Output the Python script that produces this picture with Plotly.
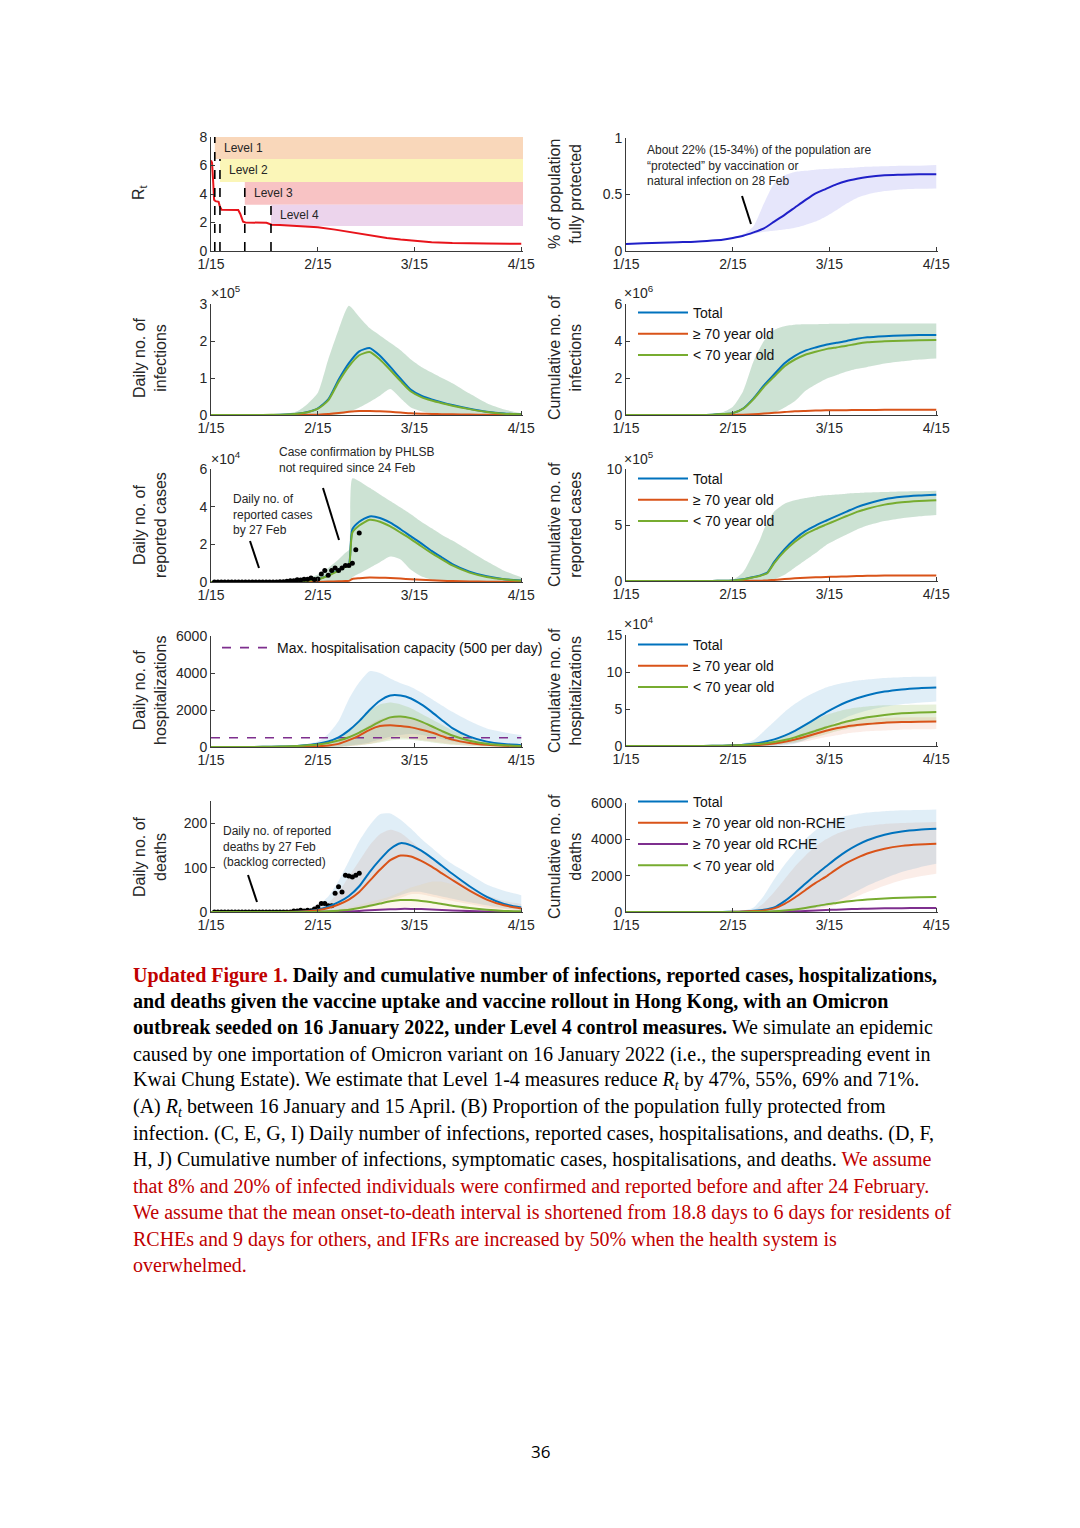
import plotly.graph_objects as go

# ---------------- data ----------------
TICK_DAYS = [0, 31, 59, 90]
TICK_LABELS = ["1/15", "2/15", "3/15", "4/15"]

DAYS = [0, 5, 10, 15, 20, 25, 28, 31, 34, 37, 40, 43, 46, 49, 52, 55, 58, 61, 64, 67, 70, 75, 80, 85, 90]
JUMP_DAYS = [0, 5, 10, 15, 20, 25, 28, 31, 34, 37, 39, 40, 41, 43, 46, 49, 52, 55, 58, 61, 64, 67, 70, 75, 80, 85, 90]

# (A) Rt
RT_DAYS = [0, 0.3, 0.6, 0.9, 1.3, 2.2, 2.6, 3.1, 7.9, 8.5, 9.3, 10.0, 16.1, 16.8, 17.6, 20, 25, 31, 36, 41, 46, 51, 55, 59, 64, 70, 75, 80, 90]
RT_VALUES = [6.35, 6.2, 5.0, 3.6, 3.5, 3.45, 3.1, 2.9, 2.88, 2.6, 2.05, 2.0, 1.98, 1.9, 1.85, 1.82, 1.76, 1.66, 1.5, 1.3, 1.1, 0.92, 0.8, 0.71, 0.62, 0.56, 0.53, 0.52, 0.51]
LEVEL_NAMES = ["Level 1", "Level 2", "Level 3", "Level 4"]
LEVEL_START = [1.1, 2.6, 9.8, 17.4]
LEVEL_LOW = [6.45, 4.85, 3.25, 1.75]
LEVEL_HIGH = [8.0, 6.45, 4.85, 3.25]

# (B) proportion protected
PROT_MID = [0.062, 0.068, 0.073, 0.078, 0.082, 0.092, 0.1, 0.115, 0.135, 0.165, 0.2, 0.26, 0.32, 0.385, 0.45, 0.51, 0.55, 0.59, 0.62, 0.64, 0.655, 0.67, 0.675, 0.68, 0.68]
PROT_LO = [0.062, 0.068, 0.073, 0.078, 0.082, 0.092, 0.1, 0.112, 0.13, 0.15, 0.17, 0.18, 0.19, 0.205, 0.23, 0.26, 0.305, 0.36, 0.42, 0.47, 0.5, 0.53, 0.545, 0.55, 0.553]
PROT_HI = [0.062, 0.068, 0.073, 0.078, 0.082, 0.094, 0.103, 0.12, 0.15, 0.22, 0.42, 0.6, 0.67, 0.7, 0.71, 0.72, 0.725, 0.73, 0.735, 0.74, 0.745, 0.75, 0.755, 0.755, 0.76]

# (C) daily infections (x1e5)
INF_TOTAL = [0, 0, 0, 0.002, 0.01, 0.035, 0.08, 0.18, 0.42, 0.95, 1.4, 1.72, 1.81, 1.6, 1.3, 0.98, 0.68, 0.52, 0.42, 0.34, 0.27, 0.17, 0.09, 0.04, 0.02]
INF_OLD = [0, 0, 0, 0, 0, 0.002, 0.005, 0.01, 0.025, 0.055, 0.085, 0.105, 0.11, 0.1, 0.085, 0.065, 0.045, 0.035, 0.028, 0.022, 0.018, 0.011, 0.006, 0.003, 0.001]
INF_YOUNG = [0, 0, 0, 0.002, 0.01, 0.033, 0.075, 0.17, 0.395, 0.895, 1.315, 1.615, 1.70, 1.50, 1.215, 0.915, 0.635, 0.485, 0.392, 0.318, 0.252, 0.159, 0.084, 0.037, 0.019]
INF_LO = [0, 0, 0, 0, 0, 0, 0, 0, 0, 0.01, 0.08, 0.2, 0.35, 0.52, 0.7, 0.45, 0.2, 0.1, 0.05, 0.03, 0.02, 0.01, 0, 0, 0]
INF_HI = [0, 0, 0, 0.003, 0.01, 0.1, 0.3, 0.6, 1.5, 2.3, 2.95, 2.65, 2.35, 2.15, 1.95, 1.75, 1.5, 1.3, 1.15, 1.0, 0.86, 0.58, 0.32, 0.15, 0.05]

# (D) cumulative infections (x1e6)
CINF_TOTAL = [0, 0, 0, 0, 0.005, 0.02, 0.05, 0.1, 0.35, 0.9, 1.6, 2.2, 2.8, 3.2, 3.48, 3.65, 3.8, 3.9, 4.0, 4.12, 4.2, 4.26, 4.3, 4.32, 4.33]
CINF_OLD = [0, 0, 0, 0, 0, 0, 0.002, 0.005, 0.015, 0.04, 0.08, 0.12, 0.16, 0.2, 0.22, 0.24, 0.25, 0.26, 0.26, 0.27, 0.27, 0.28, 0.28, 0.28, 0.28]
CINF_YOUNG = [0, 0, 0, 0, 0.005, 0.02, 0.05, 0.1, 0.34, 0.86, 1.52, 2.08, 2.64, 3.0, 3.26, 3.42, 3.56, 3.65, 3.74, 3.85, 3.93, 3.98, 4.02, 4.04, 4.05]
CINF_LO = [0, 0, 0, 0, 0, 0, 0, 0, 0, 0, 0.03, 0.12, 0.4, 0.75, 1.3, 1.65, 1.95, 2.15, 2.35, 2.5, 2.6, 2.78, 2.9, 3.0, 3.06]
CINF_HI = [0, 0, 0, 0, 0.01, 0.05, 0.15, 0.45, 1.3, 2.9, 4.0, 4.6, 4.8, 4.88, 4.9, 4.91, 4.92, 4.93, 4.93, 4.94, 4.94, 4.95, 4.95, 4.95, 4.95]

# (E) daily reported cases (x1e4)
REP_TOTAL = [0, 0, 0, 0, 0.01, 0.03, 0.07, 0.15, 0.35, 0.65, 0.85, 0.92, 2.8, 3.2, 3.48, 3.4, 3.15, 2.8, 2.42, 2.05, 1.65, 1.3, 0.95, 0.55, 0.3, 0.15, 0.08]
REP_OLD = [0, 0, 0, 0, 0, 0.002, 0.004, 0.01, 0.02, 0.04, 0.05, 0.06, 0.16, 0.2, 0.24, 0.23, 0.21, 0.18, 0.15, 0.12, 0.09, 0.07, 0.05, 0.03, 0.015, 0.008, 0.004]
REP_YOUNG = [0, 0, 0, 0, 0.01, 0.028, 0.065, 0.14, 0.33, 0.61, 0.8, 0.86, 2.62, 3.0, 3.3, 3.2, 2.95, 2.62, 2.28, 1.9, 1.53, 1.2, 0.88, 0.5, 0.27, 0.14, 0.07]
REP_LO = [0, 0, 0, 0, 0, 0, 0, 0, 0, 0, 0, 0, 0.25, 0.45, 0.75, 1.05, 1.35, 1.2, 0.65, 0.3, 0.12, 0.05, 0.02, 0, 0, 0, 0]
REP_HI = [0, 0, 0, 0, 0.02, 0.08, 0.2, 0.4, 0.75, 1.2, 1.55, 1.7, 5.5, 5.35, 5.0, 4.65, 4.3, 3.95, 3.6, 3.2, 2.85, 2.5, 2.2, 1.65, 1.1, 0.6, 0.25]
REP_OBS_DAYS = list(range(1, 44))
REP_OBS = [0.001, 0.002, 0.001, 0.002, 0.002, 0.003, 0.001, 0.002, 0.002, 0.003, 0.002, 0.003, 0.002, 0.003, 0.002, 0.002,
           0.005, 0.004, 0.004, 0.01, 0.013, 0.034, 0.06, 0.063, 0.116, 0.107, 0.151, 0.151, 0.207, 0.135, 0.162,
           0.43, 0.61, 0.36, 0.61, 0.75, 0.61, 0.74, 0.88, 0.87, 1.0, 1.71, 2.6]

# (F) cumulative reported cases (x1e5)
CREP_TOTAL = [0, 0, 0, 0, 0.002, 0.01, 0.02, 0.05, 0.15, 0.35, 0.5, 0.62, 0.75, 1.7, 2.85, 3.75, 4.45, 4.95, 5.38, 5.8, 6.2, 6.6, 6.9, 7.3, 7.52, 7.63, 7.7]
CREP_OLD = [0, 0, 0, 0, 0, 0, 0.001, 0.003, 0.008, 0.02, 0.03, 0.035, 0.045, 0.1, 0.18, 0.24, 0.29, 0.33, 0.36, 0.39, 0.41, 0.44, 0.46, 0.48, 0.49, 0.5, 0.5]
CREP_YOUNG = [0, 0, 0, 0, 0.002, 0.01, 0.02, 0.05, 0.14, 0.33, 0.47, 0.58, 0.7, 1.6, 2.67, 3.5, 4.17, 4.63, 5.03, 5.42, 5.8, 6.17, 6.45, 6.82, 7.03, 7.14, 7.2]
CREP_LO = [0, 0, 0, 0, 0, 0, 0, 0, 0, 0, 0, 0, 0.05, 0.15, 0.55, 1.2, 1.85, 2.5, 3.2, 3.7, 4.15, 4.6, 4.95, 5.35, 5.6, 5.78, 5.9]
CREP_HI = [0, 0, 0, 0, 0.005, 0.02, 0.05, 0.1, 0.8, 2.5, 3.8, 4.6, 5.2, 6.2, 6.9, 7.2, 7.4, 7.55, 7.65, 7.72, 7.8, 7.85, 7.9, 7.95, 8.0, 8.02, 8.05]

# (G) daily hospitalisations
HOSP_TOTAL = [0, 0, 2, 8, 25, 60, 110, 180, 300, 520, 900, 1400, 2000, 2500, 2780, 2780, 2620, 2300, 1900, 1450, 1020, 560, 290, 160, 100]
HOSP_OLD = [0, 0, 0, 1, 3, 10, 20, 40, 80, 170, 370, 620, 930, 1130, 1180, 1130, 1060, 930, 780, 590, 400, 220, 120, 70, 45]
HOSP_YOUNG = [0, 0, 2, 7, 22, 50, 90, 140, 220, 350, 530, 780, 1070, 1370, 1600, 1650, 1560, 1370, 1120, 860, 620, 340, 170, 90, 55]
HOSP_LO = [0, 0, 0, 0, 0, 0, 0, 0, 0, 20, 80, 150, 250, 400, 550, 650, 700, 650, 550, 420, 300, 160, 80, 40, 20]
HOSP_HI = [0, 0, 5, 15, 40, 100, 180, 300, 700, 1400, 2600, 3500, 4100, 4000, 3700, 3450, 3250, 2950, 2600, 2250, 1900, 1400, 1000, 800, 650]
HOSP_YOUNG_LO = [0, 0, 0, 0, 0, 0, 0, 0, 0, 10, 40, 90, 160, 250, 350, 400, 380, 320, 250, 180, 120, 60, 30, 15, 8]
HOSP_YOUNG_HI = [0, 0, 3, 10, 30, 70, 120, 200, 330, 500, 900, 1500, 2000, 2300, 2400, 2300, 2100, 1800, 1500, 1200, 900, 550, 300, 170, 100]
HOSP_OLD_LO = [0, 0, 0, 0, 0, 0, 0, 0, 0, 10, 40, 90, 170, 300, 450, 500, 450, 380, 300, 220, 150, 80, 40, 20, 10]
HOSP_OLD_HI = [0, 0, 0, 2, 5, 15, 30, 60, 120, 300, 550, 800, 1200, 1500, 1650, 1650, 1550, 1350, 1100, 850, 600, 350, 180, 110, 70]
HOSP_CAPACITY = 500

# (H) cumulative hospitalisations (x1e4)
CHOSP_TOTAL = [0, 0, 0, 0.001, 0.005, 0.02, 0.05, 0.1, 0.18, 0.32, 0.55, 0.9, 1.4, 2.05, 2.85, 3.7, 4.55, 5.3, 5.95, 6.45, 6.85, 7.35, 7.65, 7.82, 7.9]
CHOSP_OLD = [0, 0, 0, 0, 0.001, 0.003, 0.01, 0.02, 0.04, 0.1, 0.2, 0.35, 0.58, 0.88, 1.25, 1.65, 2.05, 2.4, 2.65, 2.83, 2.97, 3.15, 3.23, 3.28, 3.3]
CHOSP_YOUNG = [0, 0, 0, 0.001, 0.004, 0.017, 0.04, 0.08, 0.14, 0.22, 0.35, 0.55, 0.82, 1.17, 1.6, 2.05, 2.5, 2.9, 3.3, 3.62, 3.88, 4.2, 4.42, 4.54, 4.6]
CHOSP_LO = [0, 0, 0, 0, 0, 0, 0, 0, 0, 0, 0, 0, 0.1, 0.3, 0.8, 1.6, 2.4, 3.2, 3.9, 4.4, 4.8, 5.3, 5.65, 5.85, 6.0]
CHOSP_HI = [0, 0, 0, 0.002, 0.01, 0.03, 0.06, 0.1, 0.35, 0.8, 2.0, 3.3, 4.6, 5.7, 6.6, 7.3, 7.9, 8.3, 8.6, 8.85, 9.0, 9.2, 9.3, 9.35, 9.4]
CHOSP_YOUNG_LO = [0, 0, 0, 0, 0, 0, 0, 0, 0, 0, 0.05, 0.15, 0.3, 0.5, 0.85, 1.2, 1.6, 2.0, 2.3, 2.6, 2.8, 3.0, 3.2, 3.3, 3.35]
CHOSP_YOUNG_HI = [0, 0, 0, 0.002, 0.008, 0.025, 0.06, 0.12, 0.25, 0.5, 0.7, 0.9, 1.5, 2.2, 2.9, 3.6, 4.2, 4.6, 4.95, 5.2, 5.35, 5.5, 5.55, 5.58, 5.6]
CHOSP_OLD_LO = [0, 0, 0, 0, 0, 0, 0, 0, 0, 0, 0, 0.05, 0.2, 0.4, 0.6, 0.9, 1.2, 1.45, 1.7, 1.85, 2.0, 2.1, 2.2, 2.25, 2.3]
CHOSP_OLD_HI = [0, 0, 0, 0, 0.002, 0.006, 0.02, 0.04, 0.08, 0.2, 0.4, 0.6, 0.8, 1.3, 1.8, 2.25, 2.7, 3.0, 3.3, 3.5, 3.7, 3.8, 3.85, 3.88, 3.9]

# (I) daily deaths
DEATH_TOTAL = [0, 0, 0, 0, 0, 0.5, 2, 5, 12, 22, 36, 58, 90, 118, 142, 155, 150, 138, 122, 104, 86, 58, 34, 18, 10]
DEATH_OLD = [0, 0, 0, 0, 0, 0.3, 1.5, 4, 9, 17, 28, 45, 70, 95, 117, 127, 125, 115, 102, 87, 72, 48, 28, 15, 8]
DEATH_RCHE = [0, 0, 0, 0, 0, 0, 0, 0.2, 0.5, 1, 1.5, 2.5, 4, 5, 6, 7, 7, 6.5, 5.5, 4.5, 3.5, 2, 1, 0.5, 0.2]
DEATH_YOUNG = [0, 0, 0, 0, 0, 0, 0, 0.5, 1.5, 3, 5, 9, 14, 19, 24, 27, 27, 25, 22, 18, 14, 9, 5, 2.5, 1.5]
DEATH_LO = [0, 0, 0, 0, 0, 0, 0, 0, 1, 3, 5, 10, 15, 22, 30, 38, 45, 45, 40, 35, 30, 22, 15, 8, 5]
DEATH_HI = [0, 0, 0, 0, 0, 2, 6, 15, 35, 70, 115, 160, 195, 220, 222, 208, 188, 165, 145, 125, 108, 85, 62, 48, 38]
DEATH_OLD_LO = [0, 0, 0, 0, 0, 0, 0, 0, 0, 2, 4, 7, 10, 18, 25, 32, 40, 40, 35, 30, 25, 18, 10, 6, 4]
DEATH_OLD_HI = [0, 0, 0, 0, 0, 1, 3, 8, 20, 45, 80, 115, 150, 175, 185, 178, 160, 140, 120, 100, 82, 58, 38, 25, 18]
DEATH_YOUNG_LO = [0, 0, 0, 0, 0, 0, 0, 0, 0, 0, 1, 2, 3, 5, 7, 9, 10, 10, 9, 8, 6, 4, 2, 1, 0.5]
DEATH_YOUNG_HI = [0, 0, 0, 0, 0, 0, 0, 1, 3, 6, 10, 16, 22, 28, 35, 45, 55, 62, 68, 68, 62, 45, 28, 15, 8]
DEATH_OBS_DAYS = list(range(1, 44))
DEATH_OBS = [0] * 23 + [2, 2, 4, 2, 4, 3, 7, 11, 19, 19, 14, 14, 42, 57, 45, 83, 81, 79, 83, 87]

# (J) cumulative deaths
CDEATH_TOTAL = [0, 0, 0, 0, 0, 1, 4, 12, 30, 65, 120, 250, 600, 1050, 1550, 2050, 2500, 2950, 3350, 3680, 3950, 4250, 4430, 4530, 4580]
CDEATH_OLD = [0, 0, 0, 0, 0, 1, 3, 9, 22, 50, 90, 200, 450, 800, 1200, 1600, 1950, 2350, 2700, 2980, 3220, 3480, 3640, 3720, 3760]
CDEATH_RCHE = [0, 0, 0, 0, 0, 0, 0, 0.5, 1, 2, 3, 8, 18, 35, 55, 80, 105, 130, 150, 170, 185, 200, 210, 217, 220]
CDEATH_YOUNG = [0, 0, 0, 0, 0, 0, 1, 2, 5, 9, 15, 35, 80, 140, 220, 320, 420, 500, 580, 640, 690, 750, 790, 810, 820]
CDEATH_LO = [0, 0, 0, 0, 0, 0, 0, 0, 0, 0, 0, 5, 20, 60, 120, 220, 350, 580, 850, 1150, 1450, 1850, 2200, 2450, 2650]
CDEATH_HI = [0, 0, 0, 0, 0, 2, 8, 20, 80, 250, 900, 1800, 2600, 3300, 4000, 4500, 4900, 5150, 5300, 5400, 5480, 5550, 5600, 5620, 5640]
CDEATH_OLD_LO = [0, 0, 0, 0, 0, 0, 0, 0, 0, 0, 0, 3, 10, 40, 80, 150, 250, 400, 600, 850, 1100, 1450, 1750, 1950, 2100]
CDEATH_OLD_HI = [0, 0, 0, 0, 0, 1, 4, 10, 40, 100, 500, 1100, 1800, 2500, 3100, 3600, 4000, 4300, 4500, 4650, 4750, 4850, 4900, 4930, 4950]

# ---------------- style ----------------
W, H = 1080, 1528
PAGE_OFFSET = 8  # browser body margin
BLUE, ORANGE, GREEN, PURPLE = "#0072BD", "#D95319", "#77AC30", "#7E2F8E"
BLUE_BAND = "rgba(0,114,189,0.12)"
GREEN_BAND = "rgba(119,172,48,0.18)"
ORANGE_BAND = "rgba(217,83,25,0.10)"
LEVEL_COLORS = ["#F9D7BA", "#FBF6B8", "#F8C3C4", "#ECD4EC"]
AXC = "#3a3a3a"
TXT = "#262626"
SANS = "Liberation Sans, Arial, sans-serif"
SERIF = "Liberation Serif, Times New Roman, serif"
X_MAX = 90.5
RED = "#C00000"


def px_x(p):
    return (p - PAGE_OFFSET) / W


def px_y(p):
    return 1 - (p - PAGE_OFFSET) / H


fig = go.Figure()

LEFT = [px_x(211), px_x(523)]
RIGHT = [px_x(626), px_x(938)]
ROWS_L = [(137, 251), (304, 415), (469, 582), (636, 747), (801, 912)]
ROWS_R = [(138, 251), (304, 415), (469, 581), (635, 746), (803, 912)]
Y_RANGES = [[0, 8], [0, 1], [0, 3], [0, 6], [0, 6], [0, 10], [0, 6000], [0, 15], [0, 250], [0, 6000]]
Y_TICKS = [[0, 2, 4, 6, 8], [0, 0.5, 1], [0, 1, 2, 3], [0, 2, 4, 6], [0, 2, 4, 6], [0, 5, 10],
           [0, 2000, 4000, 6000], [0, 5, 10, 15], [0, 100, 200], [0, 2000, 4000, 6000]]

layout = dict(width=W, height=H, autosize=False,
              margin=dict(l=0, r=0, t=0, b=0, pad=0, autoexpand=False),
              paper_bgcolor="white", plot_bgcolor="white", showlegend=True,
              font=dict(family=SANS, color=TXT))

for i in range(10):
    n = i + 1
    sfx = "" if n == 1 else str(n)
    col = i % 2
    row = i // 2
    top, bot = (ROWS_L if col == 0 else ROWS_R)[row]
    layout["xaxis" + sfx] = dict(domain=LEFT if col == 0 else RIGHT, range=[0, X_MAX],
                                 tickvals=TICK_DAYS, ticktext=TICK_LABELS, showline=True,
                                 linecolor=AXC, linewidth=1, ticks="inside", ticklen=4,
                                 tickcolor=AXC, showgrid=False, zeroline=False, automargin=False,
                                 tickfont=dict(size=14, color=TXT, family=SANS),
                                 anchor="y" + sfx, fixedrange=True)
    layout["yaxis" + sfx] = dict(domain=[px_y(bot), px_y(top)], range=Y_RANGES[i],
                                 tickvals=Y_TICKS[i], showline=True, linecolor=AXC,
                                 linewidth=1, ticks="inside", ticklen=4, tickcolor=AXC,
                                 showgrid=False, zeroline=False, automargin=False,
                                 tickfont=dict(size=14, color=TXT, family=SANS),
                                 anchor="x" + sfx, fixedrange=True)


def ax(n):
    s = "" if n == 1 else str(n)
    return "x" + s, "y" + s


def band(n, x, lo, hi, color):
    xa, ya = ax(n)
    fig.add_trace(go.Scatter(x=x, y=lo, mode="lines", line=dict(width=0, shape="spline", smoothing=0.6),
                             xaxis=xa, yaxis=ya, showlegend=False, hoverinfo="skip"))
    fig.add_trace(go.Scatter(x=x, y=hi, mode="lines", line=dict(width=0, shape="spline", smoothing=0.6),
                             fill="tonexty", fillcolor=color, xaxis=xa, yaxis=ya,
                             showlegend=False, hoverinfo="skip"))


def line(n, x, y, color, name=None, legend=None, width=2):
    xa, ya = ax(n)
    fig.add_trace(go.Scatter(x=x, y=y, mode="lines", line=dict(color=color, width=width, shape="spline", smoothing=0.6),
                             xaxis=xa, yaxis=ya, name=name, showlegend=name is not None,
                             legend=legend if legend else "legend"))


def dots(n, x, y):
    xa, ya = ax(n)
    fig.add_trace(go.Scatter(x=x, y=y, mode="markers", marker=dict(color="black", size=5),
                             xaxis=xa, yaxis=ya, showlegend=False))


# (A)
shapes = []
for k in range(4):
    shapes.append(dict(type="rect", xref="x", yref="y", x0=LEVEL_START[k], x1=X_MAX,
                       y0=LEVEL_LOW[k], y1=LEVEL_HIGH[k], fillcolor=LEVEL_COLORS[k],
                       line=dict(width=0), layer="below"))
for k in range(4):
    shapes.append(dict(type="line", xref="x", yref="y", x0=LEVEL_START[k], x1=LEVEL_START[k],
                       y0=0, y1=LEVEL_HIGH[k], line=dict(color="black", width=1.6, dash="dash")))
fig.add_trace(go.Scatter(x=RT_DAYS, y=RT_VALUES, mode="lines", line=dict(color="#E8141B", width=2),
                         xaxis="x", yaxis="y", showlegend=False))

# (B)
band(2, DAYS, PROT_LO, PROT_HI, "rgba(80,80,230,0.14)")
line(2, DAYS, PROT_MID, "#2020C8")

# (C)
band(3, DAYS, INF_LO, INF_HI, BLUE_BAND)
band(3, DAYS, INF_LO, INF_HI, GREEN_BAND)
line(3, DAYS, INF_TOTAL, BLUE)
line(3, DAYS, INF_OLD, ORANGE)
line(3, DAYS, INF_YOUNG, GREEN)

# (D)
band(4, DAYS, CINF_LO, CINF_HI, BLUE_BAND)
band(4, DAYS, CINF_LO, CINF_HI, GREEN_BAND)
line(4, DAYS, CINF_TOTAL, BLUE, "Total", "legend")
line(4, DAYS, CINF_OLD, ORANGE, "\u2265 70 year old", "legend")
line(4, DAYS, CINF_YOUNG, GREEN, "< 70 year old", "legend")

# (E)
band(5, JUMP_DAYS, REP_LO, REP_HI, BLUE_BAND)
band(5, JUMP_DAYS, REP_LO, REP_HI, GREEN_BAND)
line(5, JUMP_DAYS, REP_TOTAL, BLUE)
line(5, JUMP_DAYS, REP_OLD, ORANGE)
line(5, JUMP_DAYS, REP_YOUNG, GREEN)
dots(5, REP_OBS_DAYS, REP_OBS)

# (F)
band(6, JUMP_DAYS, CREP_LO, CREP_HI, BLUE_BAND)
band(6, JUMP_DAYS, CREP_LO, CREP_HI, GREEN_BAND)
line(6, JUMP_DAYS, CREP_TOTAL, BLUE, "Total", "legend2")
line(6, JUMP_DAYS, CREP_OLD, ORANGE, "\u2265 70 year old", "legend2")
line(6, JUMP_DAYS, CREP_YOUNG, GREEN, "< 70 year old", "legend2")

# (G)
band(7, DAYS, HOSP_LO, HOSP_HI, BLUE_BAND)
band(7, DAYS, HOSP_YOUNG_LO, HOSP_YOUNG_HI, GREEN_BAND)
band(7, DAYS, HOSP_OLD_LO, HOSP_OLD_HI, ORANGE_BAND)
fig.add_trace(go.Scatter(x=[DAYS[0], DAYS[-1]], y=[HOSP_CAPACITY, HOSP_CAPACITY], mode="lines",
                         line=dict(color=PURPLE, width=1.6, dash="dash"), xaxis="x7", yaxis="y7",
                         name="Max. hospitalisation capacity (500 per day)", legend="legend3"))
line(7, DAYS, HOSP_TOTAL, BLUE)
line(7, DAYS, HOSP_OLD, ORANGE)
line(7, DAYS, HOSP_YOUNG, GREEN)

# (H)
band(8, DAYS, CHOSP_LO, CHOSP_HI, BLUE_BAND)
band(8, DAYS, CHOSP_YOUNG_LO, CHOSP_YOUNG_HI, GREEN_BAND)
band(8, DAYS, CHOSP_OLD_LO, CHOSP_OLD_HI, ORANGE_BAND)
line(8, DAYS, CHOSP_TOTAL, BLUE, "Total", "legend4")
line(8, DAYS, CHOSP_OLD, ORANGE, "\u2265 70 year old", "legend4")
line(8, DAYS, CHOSP_YOUNG, GREEN, "< 70 year old", "legend4")

# (I)
band(9, DAYS, DEATH_OLD_LO, DEATH_OLD_HI, ORANGE_BAND)
band(9, DAYS, DEATH_LO, DEATH_HI, BLUE_BAND)
band(9, DAYS, DEATH_YOUNG_LO, DEATH_YOUNG_HI, "rgba(240,200,120,0.15)")
dots(9, DEATH_OBS_DAYS, DEATH_OBS)
line(9, DAYS, DEATH_TOTAL, BLUE)
line(9, DAYS, DEATH_OLD, ORANGE)
line(9, DAYS, DEATH_RCHE, PURPLE)
line(9, DAYS, DEATH_YOUNG, GREEN)

# (J)
band(10, DAYS, CDEATH_OLD_LO, CDEATH_OLD_HI, ORANGE_BAND)
band(10, DAYS, CDEATH_LO, CDEATH_HI, BLUE_BAND)
line(10, DAYS, CDEATH_TOTAL, BLUE, "Total", "legend5")
line(10, DAYS, CDEATH_OLD, ORANGE, "\u2265 70 year old non-RCHE", "legend5")
line(10, DAYS, CDEATH_RCHE, PURPLE, "\u2265 70 year old RCHE", "legend5")
line(10, DAYS, CDEATH_YOUNG, GREEN, "< 70 year old", "legend5")


# legends
def leg(xp, yp):
    return dict(x=px_x(xp), y=px_y(yp), xanchor="left", yanchor="top", bgcolor="rgba(0,0,0,0)",
                font=dict(size=14, color="#111", family=SANS), tracegroupgap=0, traceorder="normal",
                itemwidth=50, itemclick=False, itemdoubleclick=False)


layout["legend"] = leg(633, 297)
layout["legend2"] = leg(633, 463)
layout["legend3"] = leg(217, 632)
layout["legend4"] = leg(633, 629)
layout["legend5"] = leg(633, 786)

# annotations
ann = []


def text(xp, yp, t, size=12, xanchor="left", yanchor="middle", angle=0, color=TXT, family=SANS, align="left"):
    ann.append(dict(xref="paper", yref="paper", x=px_x(xp), y=px_y(yp), text=t, showarrow=False,
                    xanchor=xanchor, yanchor=yanchor, textangle=angle, align=align,
                    font=dict(size=size, color=color, family=family)))


# y titles
YT = [(140, 192, "R<sub>t</sub>"), (565, 194, "% of population<br>fully protected"),
      (150, 358, "Daily no. of<br>infections"), (565, 358, "Cumulative no. of<br>infections"),
      (150, 525, "Daily no. of<br>reported cases"), (565, 525, "Cumulative no. of<br>reported cases"),
      (150, 691, "Daily no. of<br>hospitalizations"), (565, 691, "Cumulative no. of<br>hospitalizations"),
      (150, 857, "Daily no. of<br>deaths"), (565, 857, "Cumulative no. of<br>deaths")]
for xp, yp, t in YT:
    text(xp, yp, t, size=16, xanchor="center", angle=-90, align="center")

# exponents
for xp, yp, t in [(209, 292, "\u00d710<sup>5</sup>"), (622, 292, "\u00d710<sup>6</sup>"),
                  (209, 458, "\u00d710<sup>4</sup>"), (622, 458, "\u00d710<sup>5</sup>"),
                  (622, 623, "\u00d710<sup>4</sup>")]:
    text(xp, yp, t, size=14)

# Level labels
for k in range(4):
    ann.append(dict(xref="x", yref="y", x=LEVEL_START[k], y=(LEVEL_LOW[k] + LEVEL_HIGH[k]) / 2,
                    text=LEVEL_NAMES[k], showarrow=False, xanchor="left", xshift=7,
                    font=dict(size=12, color=TXT, family=SANS)))

text(645, 165, "About 22% (15-34%) of the population are<br>\u201cprotected\u201d by vaccination or<br>natural infection on 28 Feb", size=12)
text(277, 460, "Case confirmation by PHLSB<br>not required since 24 Feb", size=12)
text(231, 514, "Daily no. of<br>reported cases<br>by 27 Feb", size=12)
text(221, 847, "Daily no. of reported<br>deaths by 27 Feb<br>(backlog corrected)", size=12)

# pointer lines (paper pixel coordinates)
for x0, y0, x1, y1 in [(742, 196, 751, 224), (323, 488, 339, 540), (250, 541, 259, 568), (248, 875, 257, 902)]:
    shapes.append(dict(type="line", xref="paper", yref="paper", x0=px_x(x0), y0=px_y(y0),
                       x1=px_x(x1), y1=px_y(y1), line=dict(color="black", width=2)))

# caption
R = "<span style='color:%s'>" % RED
CAPTION = [
    "<b>" + R + "Updated Figure 1.</span> Daily and cumulative number of infections, reported cases, hospitalizations,</b>",
    "<b>and deaths given the vaccine uptake and vaccine rollout in Hong Kong, with an Omicron</b>",
    "<b>outbreak seeded on 16 January 2022, under Level 4 control measures.</b> We simulate an epidemic",
    "caused by one importation of Omicron variant on 16 January 2022 (i.e., the superspreading event in",
    "Kwai Chung Estate). We estimate that Level 1-4 measures reduce <i>R<sub>t</sub></i> by 47%, 55%, 69% and 71%.",
    "(A) <i>R<sub>t</sub></i> between 16 January and 15 April. (B) Proportion of the population fully protected from",
    "infection. (C, E, G, I) Daily number of infections, reported cases, hospitalisations, and deaths. (D, F,",
    "H, J) Cumulative number of infections, symptomatic cases, hospitalisations, and deaths. " + R + "We assume</span>",
    R + "that 8% and 20% of infected individuals were confirmed and reported before and after 24 February.</span>",
    R + "We assume that the mean onset-to-death interval is shortened from 18.8 days to 6 days for residents of</span>",
    R + "RCHEs and 9 days for others, and IFRs are increased by 50% when the health system is</span>",
    R + "overwhelmed.</span>",
]
for k, t in enumerate(CAPTION):
    text(131, 975 + 26.4 * k, t, size=20, color="black", family=SERIF)

text(540, 1451, "36", size=17, xanchor="center", color="black", family="Open Sans, sans-serif")

layout["annotations"] = ann
layout["shapes"] = shapes
fig.update_layout(**layout)
fig.write_html("out.html")
